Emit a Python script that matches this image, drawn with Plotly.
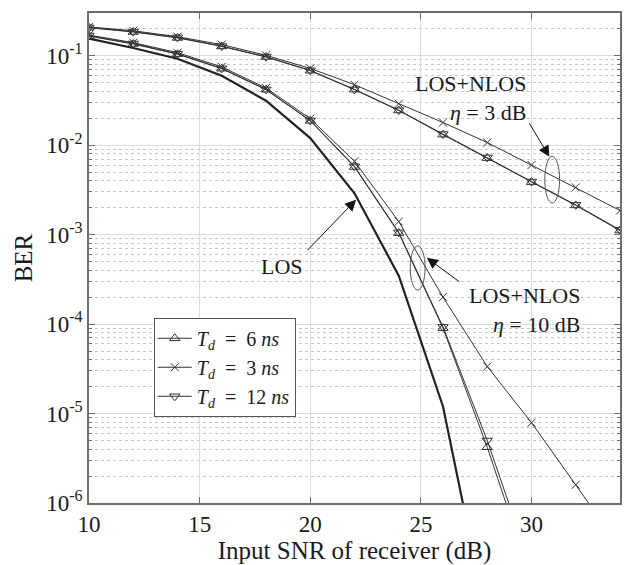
import numpy as np
import plotly.graph_objects as go

snr = [10, 12, 14, 16, 18, 20, 22, 24, 26, 28, 30, 32, 34]

ber_los = [0.155, 0.122, 0.0925, 0.0597, 0.0314, 0.012, 0.0029, 3.47e-4, 1.2e-5, 4.7e-8]

# eta = 10 dB
ber10_td6 = [0.165, 0.135, 0.104, 0.0716, 0.0417, 0.0187, 0.0057, 1.04e-3, 9.0e-5, 4.2e-6, 1.4e-7]
ber10_td12 = [0.168, 0.137, 0.105, 0.0722, 0.042, 0.0189, 0.0058, 1.06e-3, 9.3e-5, 5.0e-6, 1.8e-7]
ber10_td3 = [0.17, 0.14, 0.108, 0.075, 0.0435, 0.0198, 0.0066, 1.4e-3, 2.0e-4, 3.35e-5, 7.9e-6, 1.6e-6, 3.2e-7]

# eta = 3 dB
ber3_td6 = [0.205, 0.184, 0.158, 0.127, 0.0967, 0.068, 0.0417, 0.0244, 0.0131, 0.00716, 0.00386, 0.00212, 0.00111]
ber3_td12 = [0.207, 0.186, 0.16, 0.128, 0.0975, 0.0685, 0.042, 0.0246, 0.0133, 0.0073, 0.00392, 0.00215, 0.00113]
ber3_td3 = [0.21, 0.19, 0.163, 0.133, 0.101, 0.072, 0.0474, 0.029, 0.0179, 0.0107, 0.006, 0.00337, 0.00186]

x_ticks = [10, 15, 20, 25, 30]
y_ticks = [1e-6, 1e-5, 1e-4, 1e-3, 1e-2, 1e-1]
y_ticktext = ["10<sup>-6</sup>", "10<sup>-5</sup>", "10<sup>-4</sup>", "10<sup>-3</sup>",
              "10<sup>-2</sup>", "10<sup>-1</sup>"]
legend_names = ["<i>T<sub>d</sub></i>  =  6 <i>ns</i>", "<i>T<sub>d</sub></i>  =  3 <i>ns</i>",
                "<i>T<sub>d</sub></i>  =  12 <i>ns</i>"]

X_RANGE = [10, 34]
Y_RANGE = [-6, np.log10(0.3)]

FONT = "Liberation Serif"
LC = "#333333"
TC = "#1a1a1a"

fig = go.Figure()

fig.add_trace(go.Scatter(x=snr[:len(ber_los)], y=ber_los, mode="lines",
                         line=dict(color="#222222", width=2.2), showlegend=False))

series = [
    (ber10_td6, "triangle-up-open", legend_names[0], True, 9),
    (ber10_td3, "x-thin-open", legend_names[1], True, 8),
    (ber10_td12, "triangle-down-open", legend_names[2], True, 9),
    (ber3_td6, "triangle-up-open", legend_names[0], False, 9),
    (ber3_td3, "x-thin-open", legend_names[1], False, 8),
    (ber3_td12, "triangle-down-open", legend_names[2], False, 9),
]
for vals, sym, name, show, msize in series:
    fig.add_trace(go.Scatter(
        x=snr[:len(vals)], y=vals, mode="lines+markers", name=name,
        legendgroup=name, showlegend=show,
        line=dict(color=LC, width=1),
        marker=dict(symbol=sym, size=msize, color=LC, line=dict(color=LC, width=1)),
    ))

minor_vals = [k * 10.0 ** e for e in range(-6, 0) for k in range(2, 10)] + [0.2, 0.3]


def ydom(v):
    return (np.log10(v) - Y_RANGE[0]) / (Y_RANGE[1] - Y_RANGE[0])


# ellipses
for (xa, xb, ya, yb) in [(30.6, 31.27, 2.25e-3, 7.5e-3), (24.52, 25.19, 2.4e-4, 7.5e-4)]:
    fig.add_shape(type="circle", xref="x", yref="y domain", x0=xa, x1=xb,
                  y0=ydom(ya), y1=ydom(yb), line=dict(color="#555555", width=1))

tfont = dict(family=FONT, size=22, color=TC)
# text labels
fig.add_annotation(x=29.86, y=-1.47, xref="x", yref="y", xanchor="right", yanchor="middle",
                   align="right", text="LOS+NLOS<br><i>η</i> = 3 dB", showarrow=False, font=tfont)
fig.add_annotation(x=32.3, y=-3.847, xref="x", yref="y", xanchor="right", yanchor="middle",
                   align="right", text="LOS+NLOS<br><i>η</i> = 10 dB", showarrow=False, font=tfont)
fig.add_annotation(x=18.73, y=-3.36, xref="x", yref="y", xanchor="center", yanchor="middle",
                   text="LOS", showarrow=False, font=tfont)

# arrows
for (xt, yt, ax, ay) in [(30.81, -2.13, -21, -35), (22.07, -2.61, -50, 52), (25.27, -3.26, 34, 25)]:
    fig.add_annotation(x=xt, y=yt, xref="x", yref="y", text="", showarrow=True,
                       ax=ax, ay=ay, arrowhead=2, arrowsize=2.2, arrowwidth=1,
                       arrowcolor="#111111", standoff=0)

axis_common = dict(
    showline=True, linecolor="#6e6e6e", linewidth=1.5, mirror="allticks",
    ticks="inside", ticklen=6, tickcolor="#6e6e6e", tickwidth=1,
    gridcolor="#dcdcdc", gridwidth=1, zeroline=False,
    tickfont=dict(family=FONT, size=23, color=TC),
)

fig.update_xaxes(range=X_RANGE, tickvals=x_ticks, **axis_common,
                 title=dict(text="Input SNR of receiver (dB)", font=dict(family=FONT, size=25, color=TC),
                            standoff=2))
fig.update_yaxes(type="log", range=Y_RANGE, tickvals=y_ticks, ticktext=y_ticktext, **axis_common,
                 minor=dict(tickvals=minor_vals, ticks="inside", ticklen=3, tickcolor="#6e6e6e",
                            showgrid=True, gridcolor="#c8c8c8", griddash="dot", gridwidth=1),
                 title=dict(text="BER", font=dict(family=FONT, size=25, color=TC), standoff=6))

fig.update_layout(
    width=625, height=565,
    margin=dict(l=89, r=3, t=13, b=62),
    plot_bgcolor="white", paper_bgcolor="white",
    legend=dict(x=0.122, y=0.378, xanchor="left", yanchor="top",
                bgcolor="white", bordercolor="#555555", borderwidth=1,
                font=dict(family=FONT, size=20, color=TC),
                tracegroupgap=0, itemwidth=34, indentation=-2),
)

fig.write_html("out.html")
